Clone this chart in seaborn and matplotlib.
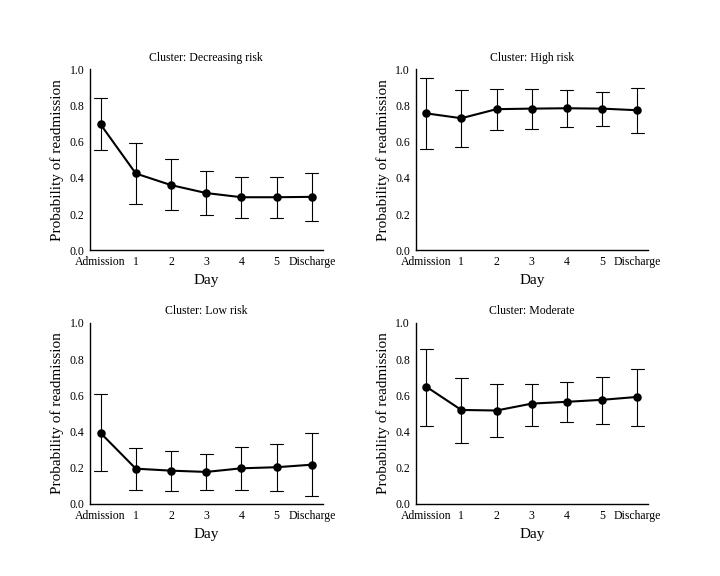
import numpy as np
import pandas as pd
import seaborn as sns
import matplotlib
matplotlib.use("Agg")
import matplotlib.pyplot as plt

days = ["Admission", "1", "2", "3", "4", "5", "Discharge"]
clusters = ["Decreasing risk", "High risk", "Low risk", "Moderate"]

dec_mean = [0.695, 0.424, 0.360, 0.316, 0.293, 0.293, 0.295]
dec_low = [0.553, 0.258, 0.220, 0.197, 0.181, 0.177, 0.164]
dec_high = [0.839, 0.590, 0.502, 0.435, 0.404, 0.404, 0.424]

high_mean = [0.756, 0.729, 0.779, 0.782, 0.784, 0.782, 0.773]
high_low = [0.559, 0.570, 0.664, 0.668, 0.679, 0.684, 0.646]
high_high = [0.950, 0.884, 0.889, 0.889, 0.884, 0.876, 0.895]

low_mean = [0.392, 0.195, 0.184, 0.177, 0.197, 0.203, 0.217]
low_low = [0.184, 0.077, 0.072, 0.077, 0.077, 0.072, 0.044]
low_high = [0.608, 0.309, 0.293, 0.276, 0.315, 0.331, 0.392]

mod_mean = [0.648, 0.519, 0.516, 0.554, 0.564, 0.575, 0.591]
mod_low = [0.433, 0.339, 0.370, 0.433, 0.455, 0.444, 0.433]
mod_high = [0.858, 0.696, 0.661, 0.663, 0.674, 0.703, 0.746]

series = {
    "Decreasing risk": (dec_mean, dec_low, dec_high),
    "High risk": (high_mean, high_low, high_high),
    "Low risk": (low_mean, low_low, low_high),
    "Moderate": (mod_mean, mod_low, mod_high),
}

sns.set_theme(style="white")
plt.rcParams["font.family"] = ["Liberation Serif", "DejaVu Serif"]
plt.rcParams["text.color"] = "black"
plt.rcParams["axes.labelcolor"] = "black"
plt.rcParams["xtick.color"] = "black"
plt.rcParams["ytick.color"] = "black"

fig, axes = plt.subplots(2, 2, figsize=(7.2, 5.76), dpi=100)
fig.subplots_adjust(left=0.125, right=0.9, top=0.88, bottom=0.125, wspace=0.4, hspace=0.4)

for ax, name in zip(axes.flat, clusters):
    m, lo, hi = series[name]
    rows = []
    for d, a, b, c in zip(days, lo, m, hi):
        for v in (a, b, c):
            rows.append({"Day": d, "p": v})
    df = pd.DataFrame(rows)
    sns.pointplot(
        data=df, x="Day", y="p", order=days, ax=ax,
        estimator="median", errorbar=lambda x: (x.min(), x.max()),
        color="black", capsize=0.37, linewidth=1.5,
        markersize=5, err_kws={"linewidth": 0.8},
    )
    ax.set_ylim(0, 1.0)
    ax.set_xlim(-0.3, 6.3)
    ax.set_yticks(np.arange(0, 1.01, 0.2))
    ax.set_yticklabels([f"{v:.1f}" for v in np.arange(0, 1.01, 0.2)])
    ax.set_title(f"Cluster: {name}", fontsize=8.5, pad=6)
    ax.set_xlabel("Day", fontsize=11, labelpad=4.5)
    ax.set_ylabel("Probability of readmission", fontsize=11, labelpad=4)
    ax.tick_params(axis="both", length=0, labelsize=8.5, pad=4)
    for s in ["top", "right"]:
        ax.spines[s].set_visible(False)
    for s in ["left", "bottom"]:
        ax.spines[s].set_color("black")
        ax.spines[s].set_linewidth(1.0)

fig.savefig("out.png", dpi=100, facecolor="white")
